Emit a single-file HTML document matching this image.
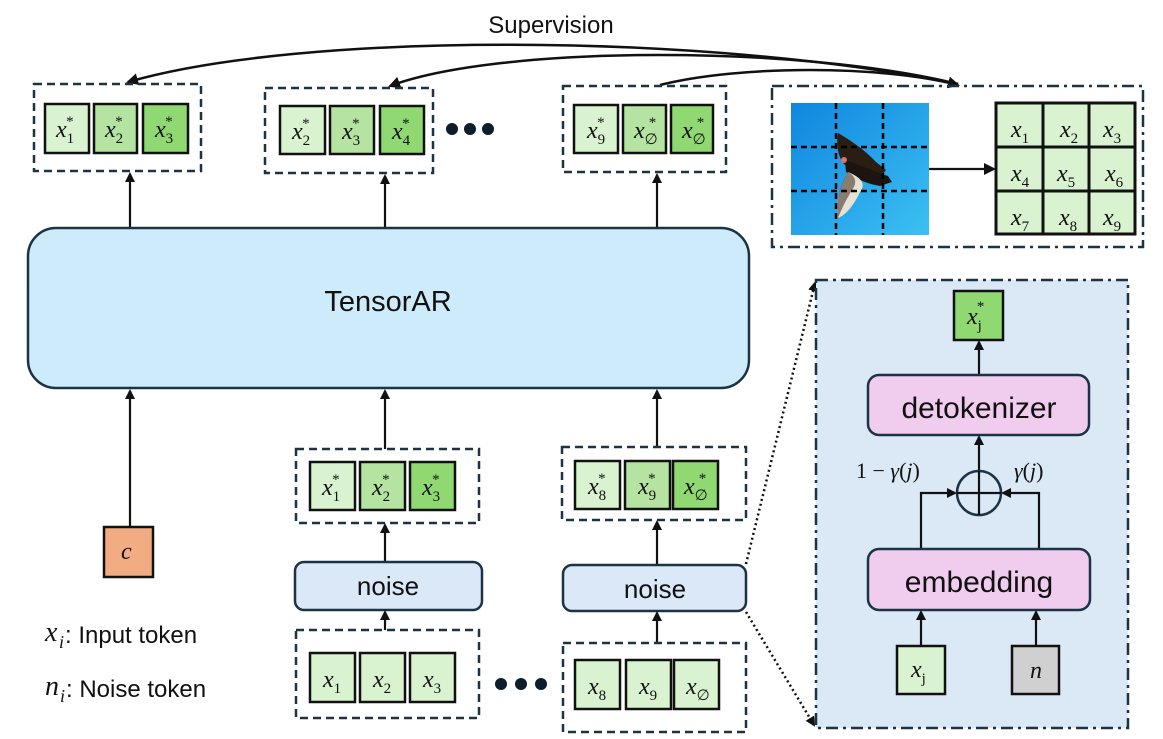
<!DOCTYPE html>
<html><head><meta charset="utf-8"><style>
body{margin:0;background:#fff}
svg{display:block}
.m{font-family:"Liberation Serif",serif;font-style:italic;font-size:24px;fill:#111}
.s{font-family:"Liberation Serif",serif;font-style:normal;font-size:15px}
.t{font-family:"Liberation Sans",sans-serif;fill:#111}
.tk{stroke:#111;stroke-width:2.5}
.l1{fill:#d9f2d0}.l2{fill:#b5e3a2}.l3{fill:#8fd872}
.dash{fill:none;stroke:#1b3344;stroke-width:2.5;stroke-dasharray:8,5}
.dd{stroke:#1b3344;stroke-width:2.5;stroke-dasharray:12,5,3,5}
.ar{stroke:#111;stroke-width:2.2;fill:none;marker-end:url(#ah)}
</style></head><body>
<svg width="1163" height="739" viewBox="0 0 1163 739" xmlns="http://www.w3.org/2000/svg">
<defs>
<marker id="ah" markerWidth="10" markerHeight="10" refX="8" refY="5" orient="auto" markerUnits="userSpaceOnUse"><path d="M0,0 L10,5 L0,10 z" fill="#111"/></marker>
<marker id="ah2" markerWidth="12" markerHeight="12" refX="10" refY="6" orient="auto" markerUnits="userSpaceOnUse"><path d="M0,0 L12,6 L0,12 z" fill="#111"/></marker>
<linearGradient id="sky" x1="0" y1="0" x2="1" y2="1"><stop offset="0" stop-color="#0f86de"/><stop offset="1" stop-color="#3cc0f3"/></linearGradient>
</defs>

<text x="551" y="33" text-anchor="middle" class="t" font-size="24">Supervision</text>
<path d="M958,84 C700,32 300,32 128,82" class="ar" style="stroke-width:2.5;marker-end:url(#ah2)"/>
<path d="M958,84 C800,45 500,45 390,86" class="ar" style="stroke-width:2.5;marker-end:url(#ah2)"/>
<path d="M660,85 C740,65 880,65 958,85" class="ar" style="stroke-width:2.5;marker-end:url(#ah2)"/>

<rect x="34" y="84" width="167" height="87" class="dash"/>
<rect x="45" y="104" width="44" height="49" class="tk l1"/><rect x="94" y="104" width="43" height="49" class="tk l2"/><rect x="143" y="104" width="45" height="49" class="tk l3"/>
<text x="56" y="137" class="m">x<tspan class="s" dy="6">1</tspan><tspan class="s" dx="-8" dy="-17">*</tspan></text>
<text x="105" y="137" class="m">x<tspan class="s" dy="6">2</tspan><tspan class="s" dx="-8" dy="-17">*</tspan></text>
<text x="155" y="137" class="m">x<tspan class="s" dy="6">3</tspan><tspan class="s" dx="-8" dy="-17">*</tspan></text>

<rect x="265" y="88" width="168" height="85" class="dash"/>
<rect x="280" y="106" width="45" height="48" class="tk l1"/><rect x="330" y="106" width="44" height="48" class="tk l2"/><rect x="380" y="106" width="44" height="48" class="tk l3"/>
<text x="292" y="139" class="m">x<tspan class="s" dy="6">2</tspan><tspan class="s" dx="-8" dy="-17">*</tspan></text>
<text x="342" y="139" class="m">x<tspan class="s" dy="6">3</tspan><tspan class="s" dx="-8" dy="-17">*</tspan></text>
<text x="392" y="139" class="m">x<tspan class="s" dy="6">4</tspan><tspan class="s" dx="-8" dy="-17">*</tspan></text>
<circle cx="452" cy="129" r="6" fill="#0d1e2a"/><circle cx="470" cy="129" r="6" fill="#0d1e2a"/><circle cx="488" cy="129" r="6" fill="#0d1e2a"/>

<rect x="563" y="86" width="163" height="86" class="dash"/>
<rect x="574" y="105" width="44" height="48" class="tk l1"/><rect x="623" y="105" width="43" height="48" class="tk l2"/><rect x="671" y="105" width="42" height="48" class="tk l3"/>
<text x="587" y="138" class="m">x<tspan class="s" dy="6">9</tspan><tspan class="s" dx="-8" dy="-17">*</tspan></text>
<text x="634" y="138" class="m">x<tspan class="s" dy="6">∅</tspan><tspan class="s" dx="-9" dy="-17">*</tspan></text>
<text x="682" y="138" class="m">x<tspan class="s" dy="6">∅</tspan><tspan class="s" dx="-9" dy="-17">*</tspan></text>

<rect x="772" y="86" width="371" height="161" fill="none" class="dd"/>
<rect x="791" y="103" width="138" height="132" fill="url(#sky)"/>
<path d="M838,133 C850,140 865,150 876,162 L886,170 L880,178 C868,172 855,168 845,165 C838,158 836,145 838,133 Z" fill="#2a1d14"/>
<path d="M845,160 C860,165 875,172 888,176 L892,182 L880,186 C868,184 858,180 846,172 Z" fill="#1c1410"/>
<path d="M848,172 C862,178 866,184 860,192 C854,205 846,215 838,218 C836,205 838,190 848,172 Z" fill="#e9e2d4"/>
<path d="M848,172 C855,176 858,182 852,190 C846,200 842,208 838,218 C836,200 840,185 848,172 Z" fill="#3a2a20" opacity="0.55"/>
<circle cx="844" cy="160" r="3" fill="#e07070"/>
<g stroke="#000" stroke-width="2.5" stroke-dasharray="6,4"><line x1="836" y1="103" x2="836" y2="235"/><line x1="883" y1="103" x2="883" y2="235"/><line x1="791" y1="147" x2="929" y2="147"/><line x1="791" y1="191" x2="929" y2="191"/></g>
<line x1="929" y1="169" x2="994" y2="169" class="ar" style="marker-end:url(#ah2)"/>
<rect x="996" y="103" width="139" height="131" fill="#d9f2d0" stroke="#111" stroke-width="3"/>
<g stroke="#111" stroke-width="3"><line x1="1043" y1="103" x2="1043" y2="234"/><line x1="1089" y1="103" x2="1089" y2="234"/><line x1="996" y1="147" x2="1135" y2="147"/><line x1="996" y1="191" x2="1135" y2="191"/></g>
<text x="1011" y="137" class="m">x<tspan class="s" dy="6">1</tspan></text><text x="1060" y="137" class="m">x<tspan class="s" dy="6">2</tspan></text><text x="1103" y="137" class="m">x<tspan class="s" dy="6">3</tspan></text>
<text x="1011" y="181" class="m">x<tspan class="s" dy="6">4</tspan></text><text x="1057" y="181" class="m">x<tspan class="s" dy="6">5</tspan></text><text x="1105" y="181" class="m">x<tspan class="s" dy="6">6</tspan></text>
<text x="1011" y="225" class="m">x<tspan class="s" dy="6">7</tspan></text><text x="1059" y="225" class="m">x<tspan class="s" dy="6">8</tspan></text><text x="1103" y="225" class="m">x<tspan class="s" dy="6">9</tspan></text>

<line x1="130" y1="228" x2="130" y2="174" class="ar"/>
<line x1="385" y1="228" x2="385" y2="176" class="ar"/>
<line x1="657" y1="228" x2="657" y2="175" class="ar"/>
<rect x="28" y="228" width="721" height="160" rx="28" fill="#cdebfa" stroke="#1b3344" stroke-width="2.5"/>
<text x="388" y="311" text-anchor="middle" class="t" font-size="29">TensorAR</text>

<rect x="104" y="527" width="49" height="50" fill="#f2ac82" stroke="#111" stroke-width="2.5"/>
<text x="121" y="559" class="m">c</text>
<line x1="130" y1="527" x2="130" y2="391" class="ar"/>

<line x1="385" y1="449" x2="385" y2="391" class="ar"/>
<rect x="296" y="449" width="183" height="74" class="dash"/>
<rect x="310" y="462" width="45" height="48" class="tk l1"/><rect x="360" y="462" width="45" height="48" class="tk l2"/><rect x="410" y="462" width="45" height="48" class="tk l3"/>
<text x="322" y="495" class="m">x<tspan class="s" dy="6">1</tspan><tspan class="s" dx="-8" dy="-17">*</tspan></text>
<text x="372" y="495" class="m">x<tspan class="s" dy="6">2</tspan><tspan class="s" dx="-8" dy="-17">*</tspan></text>
<text x="422" y="495" class="m">x<tspan class="s" dy="6">3</tspan><tspan class="s" dx="-8" dy="-17">*</tspan></text>
<line x1="385" y1="562" x2="385" y2="525" class="ar"/>
<rect x="295" y="562" width="187" height="48" rx="9" fill="#dae8f7" stroke="#1b3344" stroke-width="2.5"/>
<text x="388" y="595" text-anchor="middle" class="t" font-size="26">noise</text>
<line x1="385" y1="630" x2="385" y2="612" class="ar"/>
<rect x="296" y="630" width="183" height="88" class="dash"/>
<rect x="310" y="653" width="45" height="49" class="tk l1"/><rect x="360" y="653" width="45" height="49" class="tk l1"/><rect x="410" y="653" width="45" height="49" class="tk l1"/>
<text x="323" y="687" class="m">x<tspan class="s" dy="6">1</tspan></text><text x="373" y="687" class="m">x<tspan class="s" dy="6">2</tspan></text><text x="423" y="687" class="m">x<tspan class="s" dy="6">3</tspan></text>
<circle cx="501" cy="684" r="6" fill="#0d1e2a"/><circle cx="521" cy="684" r="6" fill="#0d1e2a"/><circle cx="541" cy="684" r="6" fill="#0d1e2a"/>

<line x1="657" y1="447" x2="657" y2="391" class="ar"/>
<rect x="562" y="447" width="184" height="73" class="dash"/>
<rect x="575" y="461" width="45" height="48" class="tk l1"/><rect x="625" y="461" width="45" height="48" class="tk l2"/><rect x="673" y="461" width="45" height="48" class="tk l3"/>
<text x="588" y="494" class="m">x<tspan class="s" dy="6">8</tspan><tspan class="s" dx="-8" dy="-17">*</tspan></text>
<text x="638" y="494" class="m">x<tspan class="s" dy="6">9</tspan><tspan class="s" dx="-8" dy="-17">*</tspan></text>
<text x="684" y="494" class="m">x<tspan class="s" dy="6">∅</tspan><tspan class="s" dx="-9" dy="-17">*</tspan></text>
<line x1="657" y1="565" x2="657" y2="522" class="ar"/>
<rect x="563" y="565" width="183" height="46" rx="9" fill="#dae8f7" stroke="#1b3344" stroke-width="2.5"/>
<text x="655" y="598" text-anchor="middle" class="t" font-size="26">noise</text>
<line x1="657" y1="643" x2="657" y2="613" class="ar"/>
<rect x="563" y="643" width="183" height="89" class="dash"/>
<rect x="575" y="660" width="45" height="49" class="tk l1"/><rect x="626" y="660" width="45" height="49" class="tk l1"/><rect x="674" y="660" width="45" height="49" class="tk l1"/>
<text x="588" y="694" class="m">x<tspan class="s" dy="6">8</tspan></text><text x="639" y="694" class="m">x<tspan class="s" dy="6">9</tspan></text><text x="686" y="694" class="m">x<tspan class="s" dy="6">∅</tspan></text>

<text x="45" y="641" class="m" style="font-size:28px">x</text>
<text x="59" y="648" class="m" style="font-size:18px">i</text>
<text x="65" y="643" class="t" style="font-size:24px">: Input token</text>
<text x="45" y="695" class="m" style="font-size:28px">n</text>
<text x="60" y="702" class="m" style="font-size:18px">i</text>
<text x="66" y="697" class="t" style="font-size:24px">: Noise token</text>

<line x1="746" y1="564" x2="815" y2="283" stroke="#111" stroke-width="2.5" stroke-dasharray="2,3" marker-end="url(#ah)"/>
<line x1="746" y1="612" x2="814" y2="725" stroke="#111" stroke-width="2.5" stroke-dasharray="2,3" marker-end="url(#ah)"/>

<rect x="816" y="280" width="312" height="448" fill="#dbe8f5" class="dd"/>
<rect x="954" y="291" width="49" height="49" fill="#8fd872" stroke="#111" stroke-width="2.5"/>
<text x="967" y="324" class="m">x<tspan class="s" dy="6">j</tspan><tspan class="s" dx="-5" dy="-19">*</tspan></text>
<line x1="979" y1="375" x2="979" y2="342" class="ar"/>
<rect x="868" y="375" width="221" height="60" rx="11" fill="#f0cdee" stroke="#1b3344" stroke-width="2.5"/>
<text x="979" y="418" text-anchor="middle" class="t" font-size="30">detokenizer</text>
<line x1="979" y1="471" x2="979" y2="437" class="ar"/>
<circle cx="979" cy="493" r="22" fill="none" stroke="#1b3344" stroke-width="2.5"/>
<line x1="979" y1="471" x2="979" y2="515" stroke="#111" stroke-width="2.2"/>
<line x1="957" y1="493" x2="1001" y2="493" stroke="#111" stroke-width="2.2"/>
<path d="M921,549 L921,493 L955,493" class="ar"/>
<path d="M1039,549 L1039,493 L1003,493" class="ar"/>
<text x="856" y="478" class="t" font-size="22" style="font-family:'Liberation Serif',serif">1 − <tspan font-style="italic">γ</tspan>(<tspan font-style="italic">j</tspan>)</text>
<text x="1014" y="478" class="t" font-size="22" style="font-family:'Liberation Serif',serif"><tspan font-style="italic">γ</tspan>(<tspan font-style="italic">j</tspan>)</text>
<rect x="868" y="549" width="222" height="61" rx="11" fill="#f0cdee" stroke="#1b3344" stroke-width="2.5"/>
<text x="979" y="592" text-anchor="middle" class="t" font-size="30">embedding</text>
<line x1="921" y1="646" x2="921" y2="612" class="ar"/>
<line x1="1036" y1="646" x2="1036" y2="612" class="ar"/>
<rect x="897" y="646" width="48" height="48" fill="#d9f2d0" stroke="#111" stroke-width="2.5"/>
<text x="911" y="677" class="m">x<tspan class="s" dy="6">j</tspan></text>
<rect x="1012" y="646" width="47" height="48" fill="#d0d0d0" stroke="#111" stroke-width="2.5"/>
<text x="1030" y="678" class="m">n</text>
</svg>
</body></html>
